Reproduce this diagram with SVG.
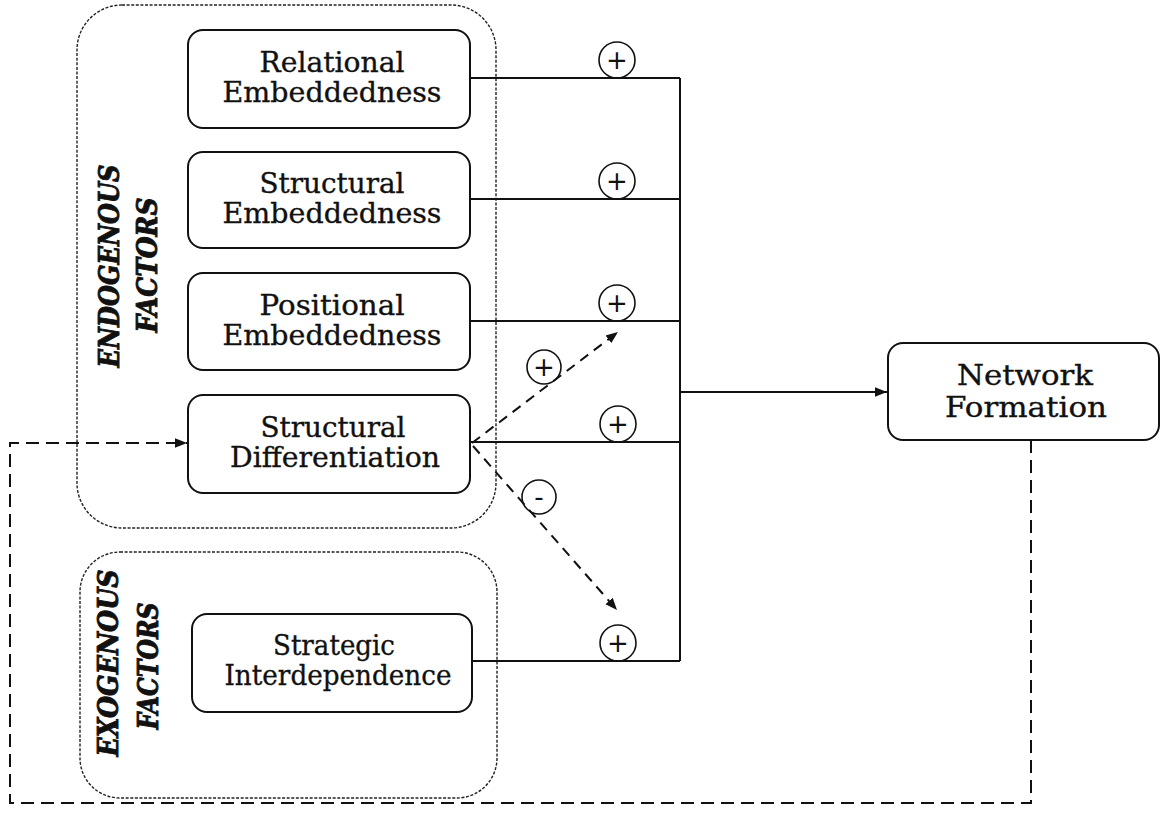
<svg xmlns="http://www.w3.org/2000/svg" width="1161" height="838" viewBox="0 0 1161 838">
  <style>
    .group { fill: none; stroke: #222; stroke-width: 1.4; stroke-dasharray: 3 1.6; }
    .node { fill: #fff; stroke: #111; stroke-width: 2; }
    .label { font-family: "DejaVu Serif", "Liberation Serif", serif; font-size: 28px; fill: #111; stroke: #111; stroke-width: 0.35; text-anchor: middle; }
    .side { font-family: "DejaVu Serif", "Liberation Serif", serif; font-size: 27px; font-weight: bold; font-style: italic; fill: #111; stroke: #111; stroke-width: 0.9; text-anchor: middle; }
    .wire { fill: none; stroke: #111; stroke-width: 2; }
    .dash { fill: none; stroke: #111; stroke-width: 2; stroke-dasharray: 10 7; }
    .loop { fill: none; stroke: #111; stroke-width: 2; stroke-dasharray: 13 7; }
    .sign circle { fill: none; stroke: #111; stroke-width: 1.6; }
    .sign text { font-family: "DejaVu Sans", "Liberation Sans", sans-serif; font-size: 26px; fill: #111; text-anchor: middle; }
  </style>
  <defs>
    <marker id="head" viewBox="0 0 10 10" refX="10" refY="5" markerWidth="12" markerHeight="12" markerUnits="userSpaceOnUse" orient="auto">
      <path d="M0,1 L10,5 L0,9 Z" fill="#111"/>
    </marker>
  </defs>

  <rect width="1161" height="838" fill="#fff"/>

  <!-- factor groups -->
  <g id="endogenous-factors">
    <rect class="group" x="77" y="5" width="419" height="523" rx="45"/>
    <text class="side" transform="translate(119,266) rotate(-90)" textLength="203" lengthAdjust="spacingAndGlyphs">ENDOGENOUS</text>
    <text class="side" transform="translate(157,265) rotate(-90)" textLength="135" lengthAdjust="spacingAndGlyphs">FACTORS</text>
  </g>
  <g id="exogenous-factors">
    <rect class="group" x="80" y="552" width="417" height="246" rx="40"/>
    <text class="side" transform="translate(118,663) rotate(-90)" textLength="187" lengthAdjust="spacingAndGlyphs">EXOGENOUS</text>
    <text class="side" transform="translate(158,666) rotate(-90)" textLength="127" lengthAdjust="spacingAndGlyphs">FACTORS</text>
  </g>

  <!-- connectors -->
  <g id="connectors">
    <path class="wire" d="M470,78 H680 M470,199 H680 M470,321 H680 M470,442 H680 M472,661 H680 M680,78 V661"/>
    <path class="wire" d="M680,392 H887" marker-end="url(#head)"/>
    <path class="dash" d="M472,443 L618,332" marker-end="url(#head)"/>
    <path class="dash" d="M473,446 L617,610" marker-end="url(#head)"/>
    <path class="loop" d="M1031,440 V803 H10 V443 H187" marker-end="url(#head)"/>
  </g>

  <!-- polarity signs -->
  <g id="signs" class="sign">
    <circle cx="617" cy="60" r="18"/><text x="617" y="69">+</text>
    <circle cx="617" cy="181" r="18"/><text x="617" y="190">+</text>
    <circle cx="617" cy="303" r="18"/><text x="617" y="312">+</text>
    <circle cx="618" cy="424" r="18"/><text x="618" y="433">+</text>
    <circle cx="618" cy="643" r="18"/><text x="618" y="652">+</text>
    <circle cx="544" cy="367" r="17"/><text x="544" y="376">+</text>
    <circle cx="539" cy="497" r="17"/><text x="539" y="506">-</text>
  </g>

  <!-- factor nodes -->
  <g id="relational-embeddedness">
    <rect class="node" x="188" y="30" width="282" height="98" rx="15"/>
    <text class="label" x="332" y="72" textLength="145" lengthAdjust="spacingAndGlyphs">Relational</text>
    <text class="label" x="332" y="102" textLength="219" lengthAdjust="spacingAndGlyphs">Embeddedness</text>
  </g>
  <g id="structural-embeddedness">
    <rect class="node" x="188" y="152" width="282" height="96" rx="15"/>
    <text class="label" x="332" y="193" textLength="145" lengthAdjust="spacingAndGlyphs">Structural</text>
    <text class="label" x="332" y="223" textLength="219" lengthAdjust="spacingAndGlyphs">Embeddedness</text>
  </g>
  <g id="positional-embeddedness">
    <rect class="node" x="188" y="273" width="282" height="97" rx="15"/>
    <text class="label" x="332" y="315" textLength="145" lengthAdjust="spacingAndGlyphs">Positional</text>
    <text class="label" x="332" y="345" textLength="219" lengthAdjust="spacingAndGlyphs">Embeddedness</text>
  </g>
  <g id="structural-differentiation">
    <rect class="node" x="188" y="395" width="282" height="98" rx="15"/>
    <text class="label" x="333" y="437" textLength="145" lengthAdjust="spacingAndGlyphs">Structural</text>
    <text class="label" x="335" y="467" textLength="210" lengthAdjust="spacingAndGlyphs">Differentiation</text>
  </g>
  <g id="strategic-interdependence">
    <rect class="node" x="192" y="614" width="280" height="98" rx="15"/>
    <text class="label" x="334" y="655" textLength="122" lengthAdjust="spacingAndGlyphs">Strategic</text>
    <text class="label" x="338" y="685" textLength="227" lengthAdjust="spacingAndGlyphs">Interdependence</text>
  </g>

  <!-- outcome node -->
  <g id="network-formation">
    <rect class="node" x="888" y="343" width="271" height="97" rx="15"/>
    <text class="label" x="1025" y="385" textLength="136" lengthAdjust="spacingAndGlyphs">Network</text>
    <text class="label" x="1026" y="417" textLength="162" lengthAdjust="spacingAndGlyphs">Formation</text>
  </g>
</svg>
